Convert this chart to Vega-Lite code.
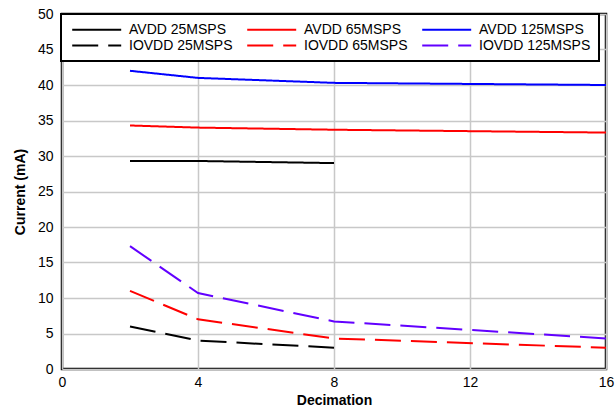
{
  "$schema": "https://vega.github.io/schema/vega-lite/v6.json",
  "autosize": {"type": "none"},
  "padding": {"left": 62, "top": 14, "right": 10, "bottom": 42},
  "width": 544,
  "height": 355,
  "background": "white",
  "config": {
    "font": "Liberation Sans",
    "view": {"stroke": "black", "strokeWidth": 2.5},
    "axis": {
      "domain": false,
      "ticks": false,
      "labelFont": "Liberation Sans",
      "labelFontSize": 14,
      "labelColor": "black",
      "titleFont": "Liberation Sans",
      "titleFontSize": 14,
      "titleFontWeight": "bold",
      "titleColor": "black",
      "gridColor": "#c8c8c8",
      "gridWidth": 1.5,
      "gridOpacity": 1
    },
    "legend": {
      "orient": "none",
      "legendX": -1,
      "legendY": 0,
      "columns": 3,
      "direction": "horizontal",
      "title": null,
      "padding": 8,
      "fillColor": "white",
      "strokeColor": "black",
      "strokeWidth": 2,
      "symbolType": "M-0.7,0L7.3,0",
      "symbolSize": 150,
      "symbolStrokeWidth": 2,
      "labelFont": "Liberation Sans",
      "labelFontSize": 14,
      "labelColor": "black",
      "labelOffset": 45,
      "labelLimit": 200,
      "columnPadding": 10,
      "rowPadding": 1
    }
  },
  "data": {
    "values": [
      {"series": "AVDD 25MSPS", "decimation": 2, "current": 29.3},
      {"series": "AVDD 25MSPS", "decimation": 4, "current": 29.3},
      {"series": "AVDD 25MSPS", "decimation": 8, "current": 29.0},
      {"series": "AVDD 65MSPS", "decimation": 2, "current": 34.3},
      {"series": "AVDD 65MSPS", "decimation": 4, "current": 34.0},
      {"series": "AVDD 65MSPS", "decimation": 8, "current": 33.7},
      {"series": "AVDD 65MSPS", "decimation": 16, "current": 33.3},
      {"series": "AVDD 125MSPS", "decimation": 2, "current": 42.0},
      {"series": "AVDD 125MSPS", "decimation": 4, "current": 41.0},
      {"series": "AVDD 125MSPS", "decimation": 8, "current": 40.3},
      {"series": "AVDD 125MSPS", "decimation": 16, "current": 40.0},
      {"series": "IOVDD 25MSPS", "decimation": 2, "current": 6.0},
      {"series": "IOVDD 25MSPS", "decimation": 4, "current": 4.0},
      {"series": "IOVDD 25MSPS", "decimation": 8, "current": 3.0},
      {"series": "IOVDD 65MSPS", "decimation": 2, "current": 11.0},
      {"series": "IOVDD 65MSPS", "decimation": 4, "current": 7.0},
      {"series": "IOVDD 65MSPS", "decimation": 8, "current": 4.3},
      {"series": "IOVDD 65MSPS", "decimation": 16, "current": 3.0},
      {"series": "IOVDD 125MSPS", "decimation": 2, "current": 17.3},
      {"series": "IOVDD 125MSPS", "decimation": 4, "current": 10.7},
      {"series": "IOVDD 125MSPS", "decimation": 8, "current": 6.7},
      {"series": "IOVDD 125MSPS", "decimation": 16, "current": 4.3}
    ]
  },
  "mark": {"type": "line", "strokeWidth": 2, "strokeCap": "butt"},
  "encoding": {
    "x": {
      "field": "decimation",
      "type": "quantitative",
      "title": "Decimation",
      "scale": {"domain": [0, 16], "nice": false},
      "axis": {"values": [0, 4, 8, 12, 16], "labelPadding": 6, "titlePadding": 4, "labelFlush": false}
    },
    "y": {
      "field": "current",
      "type": "quantitative",
      "title": "Current (mA)",
      "scale": {"domain": [0, 50], "nice": false},
      "axis": {"values": [0, 5, 10, 15, 20, 25, 30, 35, 40, 45, 50], "labelPadding": 9, "titlePadding": 10}
    },
    "color": {
      "field": "series",
      "type": "nominal",
      "sort": null,
      "scale": {
        "domain": ["AVDD 25MSPS", "AVDD 65MSPS", "AVDD 125MSPS", "IOVDD 25MSPS", "IOVDD 65MSPS", "IOVDD 125MSPS"],
        "range": ["#000000", "#ff0000", "#0000ff", "#000000", "#ff0000", "#6200ff"]
      }
    },
    "strokeDash": {
      "field": "series",
      "type": "nominal",
      "sort": null,
      "scale": {
        "domain": ["AVDD 25MSPS", "AVDD 65MSPS", "AVDD 125MSPS", "IOVDD 25MSPS", "IOVDD 65MSPS", "IOVDD 125MSPS"],
        "range": [[1, 0], [1, 0], [1, 0], [26, 10], [26, 10], [26, 10]]
      }
    },
    "order": {"field": "decimation", "type": "quantitative"}
  }
}
